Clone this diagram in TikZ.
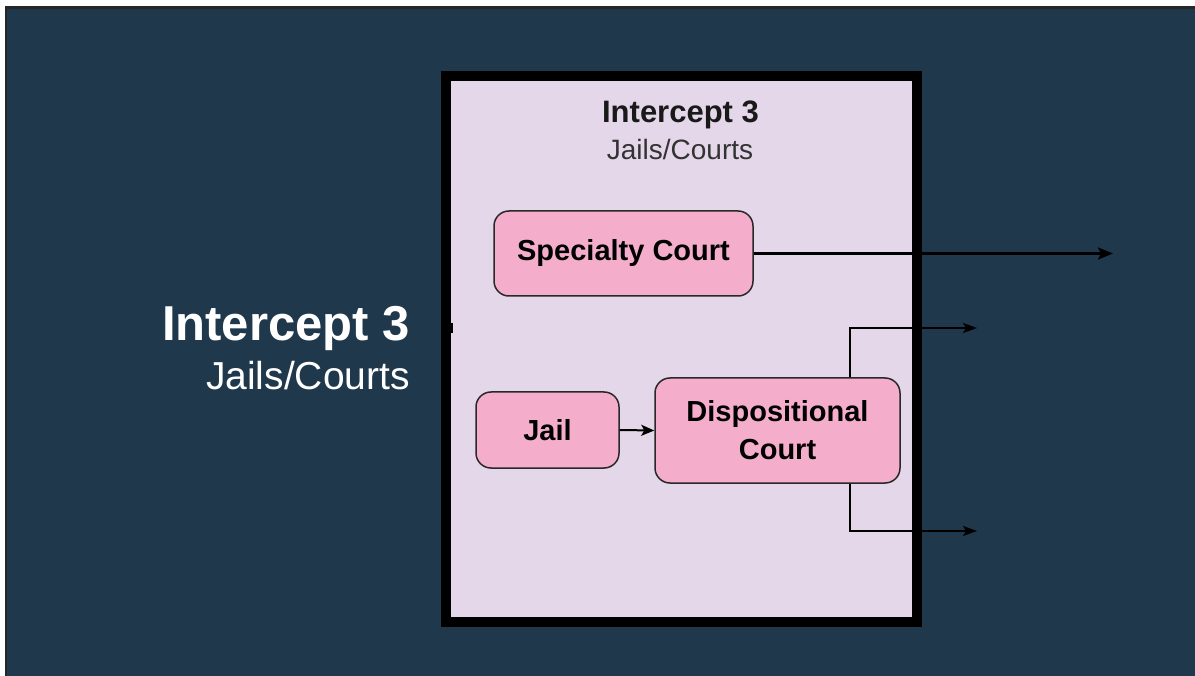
\documentclass[tikz,border=0pt]{standalone}
\usepackage{fontspec}
\setmainfont{Liberation Sans}
\usetikzlibrary{arrows.meta}
\definecolor{navy}{RGB}{32,56,76}
\definecolor{lav}{RGB}{228,215,233}
\definecolor{pinkbox}{RGB}{244,174,203}
\definecolor{edge}{RGB}{40,40,40}
\tikzset{
  pbox/.style={draw=edge, line width=1.5pt, fill=pinkbox, rounded corners=15pt,
    align=center, inner sep=0pt, font=\fontsize{29}{38}\selectfont\bfseries},
  conn/.style={draw=black, line width=2pt},
}
\begin{document}
\begin{tikzpicture}[x=1pt,y=-1pt]
\useasboundingbox (0,0) rectangle (1195,676);
\fill[white] (0,0) rectangle (1195,676);
\fill[navy] (5,7) rectangle (1200,680);
\draw[black!85, line width=2.5pt] (6,690) -- (6,7.5) -- (1200,7.5);
% big box
\draw[black, line width=10pt, fill=lav] (446,76) rectangle (917,622);
\fill[black] (441,323) rectangle (453,333);
% titles inside
\node[anchor=base, font=\fontsize{31}{36}\selectfont\bfseries, text=black!90] (t1) at (680.5,123) {Intercept 3};
\node[anchor=base, font=\fontsize{28}{34}\selectfont, text=black!80] (t2) at (680,160) {Jails/Courts};
% left label
\node[anchor=base east, inner sep=0pt, font=\fontsize{49}{55}\selectfont\bfseries, text=white] (l1) at (410,341) {Intercept 3};
\node[anchor=base east, inner sep=0pt, font=\fontsize{39}{45}\selectfont, text=white] (l2) at (410,390) {Jails/Courts};
% boxes
\node[pbox, minimum width=259pt, minimum height=85pt] (spec) at (623.5,253.5) {Specialty Court};
\node[pbox, minimum width=143pt, minimum height=76pt] (jail) at (547.5,430) {Jail};
\node[pbox, minimum width=245pt, minimum height=105pt] (disp) at (777.5,430.5) {Dispositional\\Court};
% connectors
\coordinate (o0) at (1113,253.5);
\coordinate (o1) at (977,328);
\coordinate (o2) at (977,531);
\coordinate (vx) at (850,0);
\draw[conn, line width=2.5pt, -{Stealth[length=15pt,width=12pt,inset=3pt]}] (spec.east) -- (o0);
\draw[conn, -{Stealth[length=13pt,width=11pt,inset=3pt]}] (jail.east) -- (disp.west);
\draw[conn, line width=1.6pt, -{Stealth[length=14pt,width=10pt,inset=3pt]}] (disp.north -| vx) |- (o1);
\draw[conn, line width=1.6pt, -{Stealth[length=14pt,width=10pt,inset=3pt]}] (disp.south -| vx) |- (o2);
\end{tikzpicture}
\end{document}
